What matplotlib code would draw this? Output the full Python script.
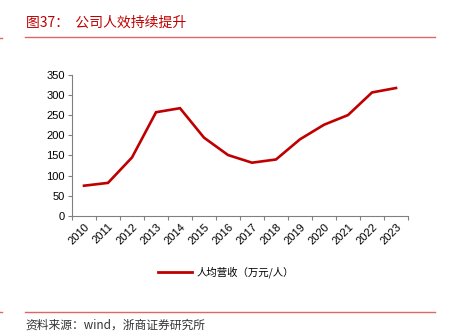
import matplotlib
matplotlib.use('Agg')
import matplotlib.pyplot as plt
from matplotlib.lines import Line2D

plt.rcParams['font.family'] = ['Liberation Sans', 'Noto Sans CJK SC', 'DejaVu Sans']

# 人均营收（万元/人）
years = ['2010', '2011', '2012', '2013', '2014', '2015', '2016',
         '2017', '2018', '2019', '2020', '2021', '2022', '2023']
revenue_per_head = [75, 82, 145, 257, 267, 194, 151, 132, 140, 190, 226, 250, 306, 317]
y_ticks = [0, 50, 100, 150, 200, 250, 300, 350]

red = '#C00000'
cjk = ['Noto Sans CJK SC', 'DejaVu Sans']

fig = plt.figure(figsize=(4.52, 3.33), dpi=100)
ax = fig.add_axes([0.1593, 0.3514, 0.7434, 0.4243])

x = range(len(years))
ax.plot(x, revenue_per_head, color=red, linewidth=1.9, solid_joinstyle='miter')

ax.set_xlim(-0.5, len(years) - 0.5)
ax.set_ylim(0, 350)
ax.set_yticks(y_ticks)
# boundary ticks between categories, labels centred on each category
ax.set_xticks([i - 0.5 for i in range(len(years) + 1)], minor=False)
ax.set_xticklabels([])
ax.set_xticks(list(x), minor=True)
ax.set_xticklabels(years, minor=True, rotation=45, ha='right', va='top',
                   rotation_mode='anchor', fontsize=8)
ax.tick_params(axis='x', which='minor', length=0, pad=4)
ax.tick_params(axis='x', which='major', length=3, color='#808080', direction='out')
ax.tick_params(axis='y', length=3, color='#808080', labelsize=8, pad=2)

for side in ('top', 'right'):
    ax.spines[side].set_visible(False)
for side in ('left', 'bottom'):
    ax.spines[side].set_color('#808080')
    ax.spines[side].set_linewidth(0.8)

# legend below the axes
handle = Line2D([], [], color=red, linewidth=2.0)
fig.legend([handle], ['人均营收（万元/人）'], loc='center', bbox_to_anchor=(0.5, 0.183),
           frameon=False, prop={'family': cjk, 'size': 7.5}, handlelength=3.3,
           handletextpad=0.4)

# header and footer
fig.text(0.057, 0.932, '图37：  公司人效持续提升', color=red, fontsize=10,
         family=cjk, ha='left', va='center')
fig.add_artist(Line2D([0.055, 0.963], [0.889, 0.889], color='#E06666', linewidth=1.0))
fig.add_artist(Line2D([0.0, 0.004], [0.886, 0.886], color='#E06666', linewidth=1.0))
fig.add_artist(Line2D([0.055, 0.963], [0.063, 0.063], color='#E06666', linewidth=1.0))
fig.add_artist(Line2D([0.0, 0.004], [0.063, 0.063], color='#E06666', linewidth=1.0))
fig.text(0.057, 0.024, '资料来源：wind，浙商证券研究所', color='#333333', fontsize=8.5,
         family=cjk, ha='left', va='center')

fig.savefig('out.png', dpi=100)
